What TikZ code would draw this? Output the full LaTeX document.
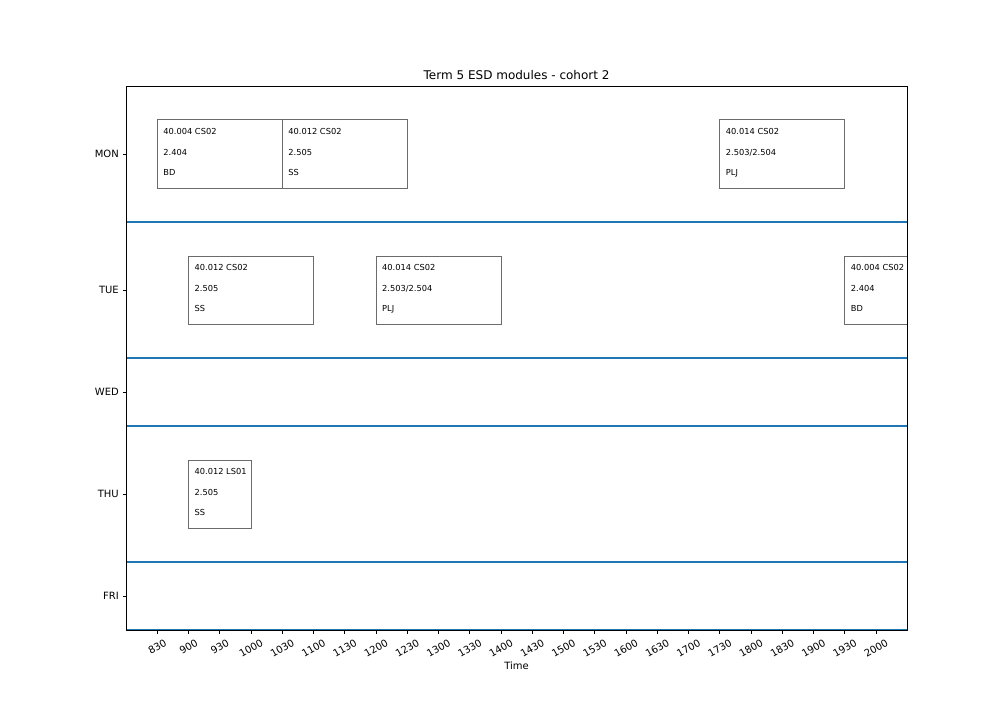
\documentclass[tikz,border=0pt]{standalone}
\usepackage{fontspec}
\setmainfont{DejaVu Sans}
\definecolor{mplblue}{HTML}{1F77B4}
\newcommand\mkslot[7]{%
  \node[slotbox, minimum width={#3*31.25bp}, anchor=north west] (#1) at ({126+#2*31.25},#4) {};
  \node[slottext] (#1a) at ([xshift=6bp,yshift=-14.2bp]#1.north west) {#5};
  \node[slottext] (#1b) at ([xshift=6bp,yshift=-35.1bp]#1.north west) {#6};
  \node[slottext] (#1c) at ([xshift=6bp,yshift=-55.6bp]#1.north west) {#7};
}
\begin{document}
\begin{tikzpicture}[x=1bp,y=-1bp,
  ticklab/.style={font=\fontsize{10.04}{12}\selectfont, inner sep=0},
  slotbox/.style={draw=black!58, line width=1bp, minimum height=68bp, inner sep=0, outer sep=0},
  slottext/.style={font=\fontsize{8.3}{10}\selectfont, inner sep=0, anchor=base west},
  dayline/.style={draw=mplblue, line width=1.5bp},
  spine/.style={draw=black, line width=0.8bp},
  tickmark/.style={draw=black, line width=0.8bp}]
\useasboundingbox (0,0) rectangle (1008,720);
\fill[white] (0,0) rectangle (1008,720);
% day separators
\foreach \yy in {222,358,426,562,630}
  \draw[dayline] (126,\yy) -- (907.25,\yy);
% boxes
\begin{scope}
\clip (126,86) rectangle (907.25,630);
\mkslot{m1}{1}{4}{120}{40.004 CS02}{2.404}{BD}
\mkslot{m2}{5}{4}{120}{40.012 CS02}{2.505}{SS}
\mkslot{m3}{19}{4}{120}{40.014 CS02}{2.503/2.504}{PLJ}
\mkslot{t1}{2}{4}{256}{40.012 CS02}{2.505}{SS}
\mkslot{t2}{8}{4}{256}{40.014 CS02}{2.503/2.504}{PLJ}
\mkslot{t3}{23}{4}{256}{40.004 CS02}{2.404}{BD}
\mkslot{h1}{2}{2}{460}{40.012 LS01}{2.505}{SS}
\end{scope}
% axes frame
\draw[spine] (126,86) rectangle (907.25,630);
% x ticks
\foreach \k in {1,...,24}{
  \pgfmathtruncatemacro\hh{8+floor(\k/2)}
  \pgfmathtruncatemacro\odd{mod(\k,2)}
  \ifnum\odd=1 \def\mm{30}\else\def\mm{00}\fi
  \ifnum\hh<10 \def\yc{646.8}\else\def\yc{648.4}\fi
  \draw[tickmark] ({126+\k*31.25},630) -- ({126+\k*31.25},633.5);
  \node[ticklab, rotate=30] (xl\k) at ({126+\k*31.25},\yc) {\hh\mm};
}
% y ticks
\foreach \yy/\lab in {154/MON,290/TUE,392/WED,494/THU,596/FRI}{
  \draw[tickmark] (122.5,\yy) -- (126,\yy);
  \node[ticklab, anchor=base east] (yl\lab) at (119,\yy+3.65) {\lab};
}
\node[ticklab, anchor=base] (xlabel) at (516.6,669.6) {Time};
\node[inner sep=0, anchor=base, font=\fontsize{12.05}{14}\selectfont] (title) at (516.6,79.9) {Term 5 ESD modules - cohort 2};
\end{tikzpicture}
\end{document}
